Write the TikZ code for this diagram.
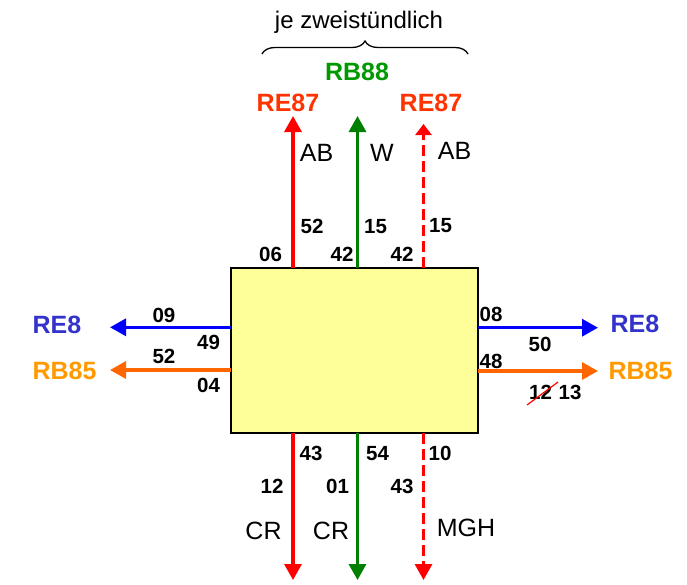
\documentclass[tikz,border=0pt]{standalone}
\usepackage{fontspec}
\setmainfont{Liberation Sans}
\usetikzlibrary{arrows.meta,decorations.pathreplacing,calc}
\definecolor{cred}{HTML}{FF0000}
\definecolor{cgreen}{HTML}{008000}
\definecolor{cblue}{HTML}{0000FF}
\definecolor{corange}{HTML}{FF6600}
\definecolor{tred}{HTML}{FF3300}
\definecolor{tgreen}{HTML}{009900}
\definecolor{tblue}{HTML}{3333CC}
\definecolor{torange}{HTML}{FF9900}
\definecolor{boxfill}{HTML}{FFFF99}
\tikzset{
  conn/.style={line width=3.2pt,-{Triangle[length=16pt,width=17pt]}},
  dashconn/.style={conn,dash pattern=on 11pt off 5pt},
  num/.style={font=\fontsize{20.5}{22}\selectfont\bfseries,inner sep=0pt},
  lbl/.style={font=\fontsize{25}{28}\selectfont\bfseries,inner sep=0pt,anchor=base},
  txt/.style={font=\fontsize{25}{28}\selectfont,inner sep=0pt,anchor=base},
  mainbox/.style={draw=black,line width=2pt,fill=boxfill,minimum width=247pt,minimum height=165pt,inner sep=0pt}
}
\begin{document}
\begin{tikzpicture}[x=1pt,y=-1pt]
\useasboundingbox (0,0) rectangle (687,584);
\node[mainbox] (box) at (354.5,350.5) {};
% top
\node[font=\fontsize{24}{26}\selectfont,inner sep=0pt,anchor=base] (je) at (359,28) {je zweistündlich};
\coordinate (brl) at (262,54);
\coordinate (brr) at (468,54);
\draw[line width=1.3pt,decorate,decoration={brace,amplitude=13pt,aspect=0.5}] (brl) -- (brr);
\node[lbl,text=tgreen] (rb88) at (357,80) {RB88};
\node[lbl,text=tred] (re87a) at (288,111.7) {RE87};
\node[lbl,text=tred] (re87b) at (431,111.7) {RE87};
\coordinate (t1s) at (293,268); \coordinate (t1e) at (293,116);
\coordinate (t2s) at (357.5,268); \coordinate (t2e) at (357.5,116);
\coordinate (t3s) at (423.5,268); \coordinate (t3e) at (423.5,124);
\draw[conn,cred] (t1s) -- (t1e);
\draw[conn,cgreen] (t2s) -- (t2e);
\draw[dashconn,cred,-{Triangle[length=11pt,width=16pt]}] (t3s) -- (t3e);
\node[txt] (ab1) at (316.5,161) {AB};
\node[txt] (w) at (382,161) {W};
\node[txt] (ab2) at (454.5,159) {AB};
\node[num] (n52a) at (312,226.5) {52};
\node[num] (n15a) at (375.5,226.5) {15};
\node[num] (n15b) at (440.5,225.5) {15};
\node[num] (n06) at (270.5,254) {06};
\node[num] (n42a) at (342,254) {42};
\node[num] (n42b) at (402,254) {42};
% left
\coordinate (l1s) at (231,327.3); \coordinate (l1e) at (110,327.3);
\coordinate (l2s) at (231,370); \coordinate (l2e) at (110,370);
\draw[conn,cblue] (l1s) -- (l1e);
\draw[conn,corange] (l2s) -- (l2e);
\node[lbl,text=tblue] (re8l) at (57,333) {RE8};
\node[lbl,text=torange] (rb85l) at (64.5,379) {RB85};
\node[num] (n09) at (164,315) {09};
\node[num] (n49) at (208.5,342.5) {49};
\node[num] (n52b) at (164,356) {52};
\node[num] (n04) at (208.5,385.5) {04};
% right
\coordinate (r1s) at (478,327.7); \coordinate (r1e) at (598,327.7);
\coordinate (r2s) at (478,371); \coordinate (r2e) at (598,371);
\draw[conn,cblue] (r1s) -- (r1e);
\draw[conn,corange] (r2s) -- (r2e);
\node[lbl,text=tblue] (re8r) at (635,332) {RE8};
\node[lbl,text=torange] (rb85r) at (640.5,379) {RB85};
\node[num] (n08) at (491,314) {08};
\node[num] (n50) at (540,344.5) {50};
\node[num] (n48) at (491,361) {48};
\node[num] (n12r) at (540.5,392.5) {12};
\node[num] (n13) at (570,392.5) {13};
\coordinate (s1) at (527,405);
\coordinate (s2) at (558,382);
\draw[cred,line width=1.2pt] (s1) -- (s2);
% bottom
\coordinate (b1s) at (293,433); \coordinate (b1e) at (293,580);
\coordinate (b2s) at (357.5,433); \coordinate (b2e) at (357.5,580);
\coordinate (b3s) at (423.5,433); \coordinate (b3e) at (423.5,580);
\draw[conn,cred] (b1s) -- (b1e);
\draw[conn,cgreen] (b2s) -- (b2e);
\draw[dashconn,cred] (b3s) -- (b3e);
\node[num] (n43a) at (311,453.5) {43};
\node[num] (n54) at (377.5,453.5) {54};
\node[num] (n10) at (440,453.5) {10};
\node[num] (n12b) at (272,486.5) {12};
\node[num] (n01) at (337.5,486.5) {01};
\node[num] (n43b) at (402,486.5) {43};
\node[txt] (cr1) at (263.5,539) {CR};
\node[txt] (cr2) at (331,539) {CR};
\node[txt] (mgh) at (466,536) {MGH};
\end{tikzpicture}
\end{document}
